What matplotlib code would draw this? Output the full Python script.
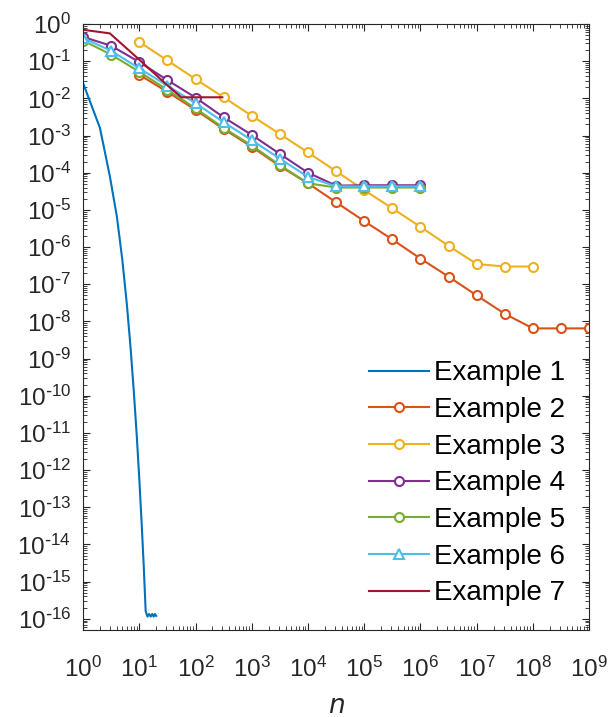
import matplotlib
matplotlib.use("Agg")
import matplotlib.pyplot as plt
from matplotlib.ticker import LogLocator, NullFormatter, FuncFormatter
import numpy as np

plt.rcParams['font.family'] = ['Liberation Sans', 'DejaVu Sans']
plt.rcParams['mathtext.default'] = 'regular'

# half-decade sample points
n_half = [1e0, 3.162e0, 1e1, 3.162e1, 1e2, 3.162e2, 1e3, 3.162e3, 1e4, 3.162e4,
          1e5, 3.162e5, 1e6, 3.162e6, 1e7, 3.162e7, 1e8, 3.162e8, 1e9]

# Example 1: integer n
n1 = list(range(1, 21))
err1 = [2.6e-2, 1.6e-3, 8e-5, 6.6e-6, 4.5e-7, 3e-8, 2e-9, 1.3e-10, 9e-12, 6e-13,
        4e-14, 2.7e-15, 1.6e-16, 1.15e-16, 1.35e-16, 1.15e-16, 1.35e-16, 1.15e-16,
        1.35e-16, 1.2e-16]

n2 = n_half[2:19]
err2 = [0.043, 0.015, 4.9e-3, 1.5e-3, 5.0e-4, 1.5e-4, 5.2e-5, 1.6e-5, 5.0e-6,
        1.6e-6, 4.9e-7, 1.6e-7, 5.0e-8, 1.6e-8, 6.5e-9, 6.5e-9, 6.5e-9]

n3 = n_half[2:17]
err3 = [0.33, 0.105, 0.033, 0.0107, 3.4e-3, 1.1e-3, 3.5e-4, 1.1e-4, 3.4e-5,
        1.1e-5, 3.5e-6, 1.08e-6, 3.5e-7, 3.0e-7, 3.0e-7]

n4 = n_half[0:13]
err4 = [0.45, 0.26, 0.095, 0.031, 0.0105, 3.1e-3, 1.04e-3, 3.2e-4, 1.0e-4,
        4.5e-5, 4.6e-5, 4.6e-5, 4.6e-5]

n5 = n_half[0:13]
err5 = [0.36, 0.15, 0.052, 0.017, 5.4e-3, 1.6e-3, 5.4e-4, 1.6e-4, 5.2e-5,
        4.0e-5, 4.0e-5, 4.0e-5, 4.0e-5]

n6 = n_half[0:13]
err6 = [0.42, 0.19, 0.064, 0.022, 7.4e-3, 2.3e-3, 7.5e-4, 2.4e-4, 7.7e-5,
        4.3e-5, 4.3e-5, 4.3e-5, 4.3e-5]

n7 = [1, 3, 10, 30, 56, 300]
err7 = [0.70, 0.56, 0.11, 0.024, 0.0107, 0.0107]

labels = ['Example %d' % i for i in range(1, 8)]
colors = ['#0072BD', '#D95319', '#EDB120', '#7E2F8E', '#77AC30', '#4DBEEE', '#A2142F']

fig = plt.figure(figsize=(6.15, 7.17), dpi=100)
ax = fig.add_axes([0.135, 0.1213, 0.823, 0.8452])

lw = 1.5
mk = dict(markersize=6.5, markerfacecolor='white', markeredgewidth=1.5)
ax.plot(n1, err1, color=colors[0], lw=lw, label=labels[0])
ax.plot(n2, err2, color=colors[1], lw=lw, marker='o', label=labels[1], **mk)
ax.plot(n3, err3, color=colors[2], lw=lw, marker='o', label=labels[2], **mk)
ax.plot(n4, err4, color=colors[3], lw=lw, marker='o', label=labels[3], **mk)
ax.plot(n5, err5, color=colors[4], lw=lw, marker='o', label=labels[4], **mk)
ax.plot(n6, err6, color=colors[5], lw=lw, marker='^', label=labels[5], **mk)
ax.plot(n7, err7, color=colors[6], lw=lw, label=labels[6])

ax.set_xscale('log')
ax.set_yscale('log')
ax.set_xlim(1, 1e9)
ax.set_ylim(5e-17, 1)
ax.set_xticks([10.0 ** k for k in range(0, 10)])
ax.set_yticks([10.0 ** (-k) for k in range(0, 17)])
ax.xaxis.set_minor_locator(LogLocator(base=10, subs=range(2, 10), numticks=100))
ax.yaxis.set_minor_locator(LogLocator(base=10, subs=range(2, 10), numticks=100))
ax.xaxis.set_minor_formatter(NullFormatter())
ax.yaxis.set_minor_formatter(NullFormatter())


def pow10(v, pos):
    e = int(round(np.log10(v)))
    if e < 0:
        return r'$10^{\text{-}%d}$' % (-e)
    return r'$10^{%d}$' % e


ax.xaxis.set_major_formatter(FuncFormatter(pow10))
ax.yaxis.set_major_formatter(FuncFormatter(pow10))

axcol = '#262626'
for s in ax.spines.values():
    s.set_color(axcol)
    s.set_linewidth(0.8)
ax.tick_params(which='both', direction='in', top=True, right=True, colors=axcol,
               labelcolor=axcol, labelsize=17.5)
ax.tick_params(which='major', length=5, width=0.8)
ax.tick_params(which='minor', length=3, width=0.6)
ax.tick_params(axis='x', pad=19)
ax.tick_params(axis='y', pad=8.5)

ax.set_xlabel('$\\mathit{n}$', fontsize=19, color=axcol, labelpad=9)

ax.legend(loc='lower right', frameon=False, fontsize=20, handlelength=2.16,
          handletextpad=0.18, labelspacing=0.385, borderaxespad=0.45)

fig.savefig('out.png', dpi=100)
